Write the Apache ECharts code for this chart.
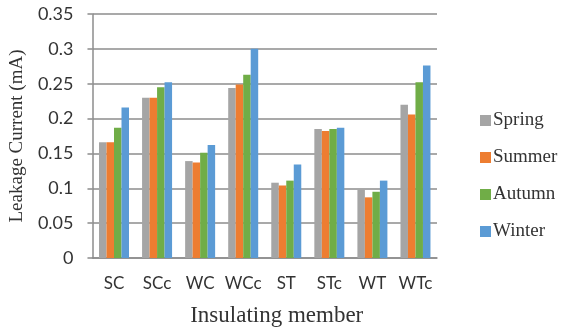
<!DOCTYPE html>
<html><head><meta charset="utf-8">
<script src="https://cdn.jsdelivr.net/npm/echarts@6/dist/echarts.min.js"></script>
<style>html,body{margin:0;padding:0;background:#fff}#c{width:562px;height:332px}</style>
</head><body><div id="c"></div>
<script>
var categories = ['SC','SCc','WC','WCc','ST','STc','WT','WTc'];
var spring = [0.166,0.230,0.139,0.244,0.108,0.185,0.098,0.220];
var summer = [0.166,0.230,0.137,0.249,0.104,0.182,0.087,0.206];
var autumn = [0.187,0.245,0.151,0.263,0.111,0.185,0.095,0.252];
var winter = [0.216,0.252,0.162,0.300,0.134,0.187,0.111,0.276];
var seriesNames = ['Spring','Summer','Autumn','Winter'];
var colors = ['#a5a5a5','#ed7d31','#70ad47','#5b9bd5'];
var yTicks = {min:0,max:0.35,interval:0.05};

var data = [spring,summer,autumn,winter];
var chart = echarts.init(document.getElementById('c'),null,{renderer:'canvas'});
chart.setOption({
  animation:false,
  color:colors,
  grid:{left:91,right:125,top:14,bottom:70},
  legend:{
    orient:'vertical', left:475, top:106, itemGap:18,
    itemWidth:11, itemHeight:11, icon:'rect',
    textStyle:{fontFamily:'Liberation Serif',fontSize:19,color:'#333',padding:[0,0,0,-3]},
    data:seriesNames
  },
  xAxis:{
    type:'category', data:categories,
    name:'Insulating member', nameLocation:'middle', nameGap:46,
    nameTextStyle:{fontFamily:'Liberation Serif',fontSize:23,color:'#333',padding:[0,0,0,24]},
    axisLine:{lineStyle:{color:'#8c8c8c',width:1.5}},
    axisTick:{show:false},
    axisLabel:{fontFamily:'Lato',fontSize:17,color:'#333',margin:17,interval:0}
  },
  yAxis:{
    type:'value', min:yTicks.min, max:yTicks.max, interval:yTicks.interval,
    name:'Leakage Current (mA)', nameLocation:'middle', nameGap:63,
    nameTextStyle:{fontFamily:'Liberation Serif',fontSize:19,color:'#333'},
    axisLine:{show:true,lineStyle:{color:'#8c8c8c',width:1.5}},
    axisTick:{show:true,length:5,lineStyle:{color:'#8c8c8c',width:1.5}},
    splitLine:{lineStyle:{color:'#8c8c8c',width:1.5}},
    axisLabel:{fontFamily:'Lato',fontSize:18,color:'#333',margin:19,
      formatter:function(v){return String(parseFloat(v.toFixed(2)));}}
  },
  series:data.map(function(d,i){
    return {name:seriesNames[i],type:'bar',data:d,barWidth:7.5,barGap:'0%'};
  })
});
</script></body></html>
